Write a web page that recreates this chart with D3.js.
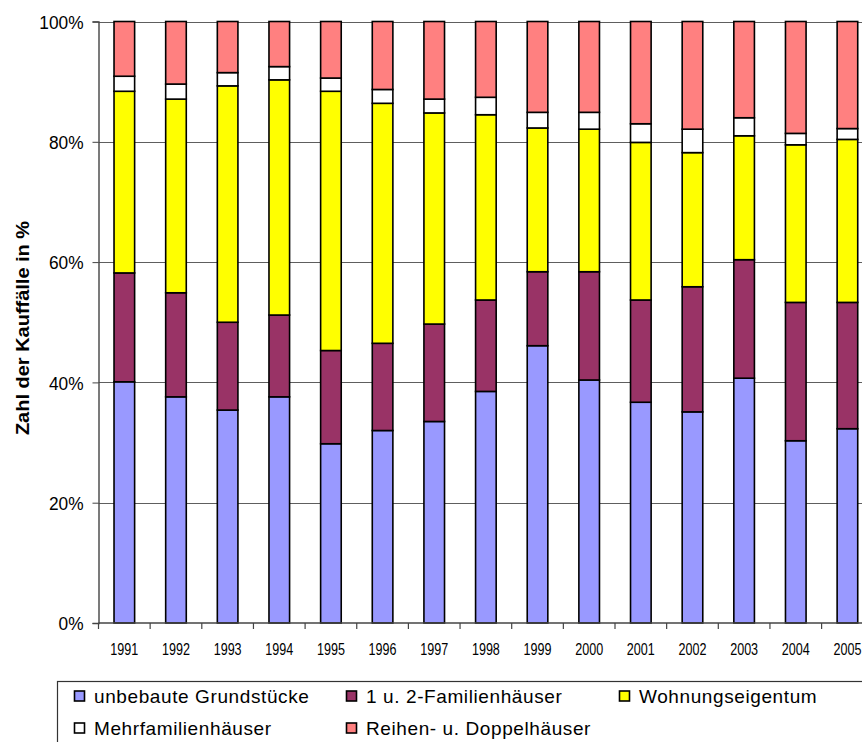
<!DOCTYPE html>
<html>
<head>
<meta charset="utf-8">
<script src="https://cdn.jsdelivr.net/npm/d3@7/dist/d3.min.js"></script>
<style>
  html, body { margin: 0; padding: 0; background: #fff; }
  svg { display: block; }
  svg text { font-family: "Liberation Sans", Arial, sans-serif; }
</style>
</head>
<body>
<svg id="chart" width="862" height="742"></svg>
<script>
// Share of purchase cases by property type, per year (percent)
const years = ["1991","1992","1993","1994","1995","1996","1997","1998","1999","2000","2001","2002","2003","2004","2005"];
const seriesNames = ["unbebaute Grundstücke","1 u. 2-Familienhäuser","Wohnungseigentum","Mehrfamilienhäuser","Reihen- u. Doppelhäuser"];
const unbebaut      = [40.1, 37.6, 35.4, 37.6, 29.8, 32.0, 33.5, 38.5, 46.1, 40.4, 36.7, 35.1, 40.7, 30.3, 32.3];
const familien12    = [18.1, 17.3, 14.6, 13.6, 15.5, 14.5, 16.2, 15.2, 12.3, 18.0, 17.0, 20.8, 19.7, 23.0, 21.0];
const wohnungseig   = [30.2, 32.2, 39.3, 39.1, 43.1, 39.9, 35.1, 30.8, 23.9, 23.7, 26.2, 22.3, 20.6, 26.2, 27.1];
const mehrfamilien  = [ 2.5,  2.5,  2.2,  2.2,  2.2,  2.3,  2.3,  2.9,  2.6,  2.8,  3.1,  3.9,  3.0,  1.9,  1.8];
const reihenDoppel  = [ 9.1, 10.4,  8.5,  7.5,  9.4, 11.3, 12.9, 12.6, 15.1, 15.1, 17.0, 17.9, 16.0, 18.6, 17.8];
const yTickValues   = [0, 20, 40, 60, 80, 100];
const colors = ["#9999FF", "#993366", "#FFFF00", "#FFFFFF", "#FF8080"];

const seriesValues = [unbebaut, familien12, wohnungseig, mehrfamilien, reihenDoppel];
const rows = years.map((y, i) => {
  const r = { year: y };
  seriesNames.forEach((n, k) => { r[n] = seriesValues[k][i]; });
  return r;
});

const svg = d3.select("#chart");

// plot area (the last category runs past the right edge of the page)
const x0 = 98.5, plotTop = 21.5, plotBottom = 623;
const band = 51.65;
const x = d3.scaleBand().domain(years).range([x0, x0 + band * years.length]).paddingInner(0.6).paddingOuter(0.3);
const y = d3.scaleLinear().domain([0, 100]).range([plotBottom, plotTop]);

// gridlines
svg.append("g")
  .selectAll("line").data(yTickValues.filter(v => v > 0)).join("line")
  .attr("x1", x0).attr("x2", 900)
  .attr("y1", d => Math.round(y(d)) + 0.5).attr("y2", d => Math.round(y(d)) + 0.5)
  .attr("stroke", "#5e5e5e").attr("stroke-width", 1.2);

// stacked bars
const stack = d3.stack().keys(seriesNames);
const layers = stack(rows);
const bw = 20.6;
svg.append("g").selectAll("g").data(layers).join("g")
  .attr("fill", (d, i) => colors[i])
  .selectAll("rect").data(d => d).join("rect")
  .attr("x", d => x(d.data.year) + x.bandwidth() / 2 - bw / 2)
  .attr("width", bw)
  .attr("y", d => y(d[1]))
  .attr("height", d => y(d[0]) - y(d[1]))
  .attr("stroke", "#000").attr("stroke-width", 1.6);

// y axis
const yAxis = d3.axisLeft(y).tickValues(yTickValues).tickSize(6).tickFormat(d => d + "%");
const gy = svg.append("g").attr("transform", `translate(${x0},0)`).call(yAxis);
gy.attr("font-family", null);
gy.select(".domain").attr("stroke", "#444").attr("stroke-width", 1.4);
gy.selectAll(".tick line").attr("stroke", "#444");
gy.selectAll(".tick text")
  .attr("font-size", 19).attr("fill", "#000")
  .attr("x", 0).attr("dy", "0.36em")
  .attr("transform", "translate(-15,0) scale(0.91,1)")
  .attr("text-anchor", "end");

// x axis: ticks at category boundaries
const boundaries = d3.range(years.length + 1).map(i => x0 + i * band);
svg.append("line").attr("x1", x0).attr("x2", 900).attr("y1", plotBottom).attr("y2", plotBottom)
  .attr("stroke", "#444").attr("stroke-width", 1.4);
svg.append("g").selectAll("line").data(boundaries).join("line")
  .attr("x1", d => d).attr("x2", d => d).attr("y1", plotBottom).attr("y2", plotBottom + 6)
  .attr("stroke", "#444").attr("stroke-width", 1.2);
svg.append("g").selectAll("text").data(years).join("text")
  .attr("transform", d => `translate(${x(d) + x.bandwidth() / 2},655) scale(0.74,1)`)
  .attr("text-anchor", "middle").attr("font-size", 17).attr("fill", "#000")
  .text(d => d);

// y axis title
svg.append("text")
  .attr("transform", "translate(29,328) rotate(-90) scale(1.08,1)")
  .attr("text-anchor", "middle").attr("font-size", 18.5).attr("font-weight", "bold")
  .text("Zahl der Kauffälle in %");

// legend
const legend = svg.append("g");
legend.append("rect").attr("x", 57.5).attr("y", 681.5).attr("width", 900).attr("height", 100)
  .attr("fill", "#fff").attr("stroke", "#333").attr("stroke-width", 1.2);
const legendPos = [[74, 696], [346, 696], [619, 696], [74, 728], [346, 728]];
seriesNames.forEach((n, i) => {
  const [lx, ly] = legendPos[i];
  legend.append("rect").attr("x", lx + 0.5).attr("y", ly - 5).attr("width", 10).attr("height", 10)
    .attr("fill", colors[i]).attr("stroke", "#000").attr("stroke-width", 1.6);
  legend.append("text").attr("x", lx + 20).attr("y", ly + 6.5)
    .attr("font-size", 19).attr("letter-spacing", 0.6).attr("fill", "#000").text(n);
});
</script>
</body>
</html>
